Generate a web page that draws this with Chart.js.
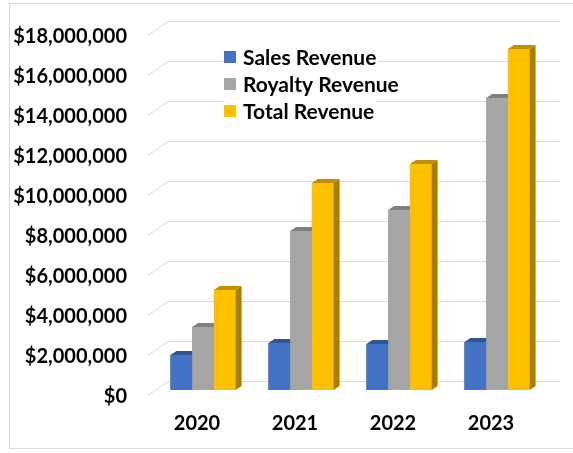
<!DOCTYPE html>
<html>
<head>
<meta charset="utf-8">
<script src="https://cdn.jsdelivr.net/npm/chart.js@4/dist/chart.umd.min.js"></script>
<style>
  html, body { margin: 0; padding: 0; background: #fff; overflow: hidden; }
  #wrap { position: relative; width: 573px; height: 453px; }
  #frame { position: absolute; left: 9px; top: 3px; width: 580px; height: 444px; border: 1px solid #d9d9d9; }
  #revenue-chart { position: absolute; left: 0; top: 0; }
</style>
</head>
<body>
<div id="wrap">
  <div id="frame"></div>
  <canvas id="revenue-chart" width="573" height="453"></canvas>
</div>
<script>
const ctx = document.getElementById('revenue-chart').getContext('2d');

// values
const years = ['2020', '2021', '2022', '2023'];
const salesRevenue = [1750000, 2350000, 2300000, 2400000];
const royaltyRevenue = [3150000, 7950000, 9000000, 14600000];
const totalRevenue = [5000000, 10350000, 11300000, 17050000];
const yMax = 18000000;
const yStep = 2000000;

const fontFamily = 'Lato, "DejaVu Sans", sans-serif';
const labelFont = { family: fontFamily, size: 20, weight: 'bold' };
const gridColor = '#d9d9d9';

// back wall + left wall gridlines, drawn like the 3D excel chart
const gridPlugin = {
    id: 'grid3d',
    beforeDatasetsDraw(chart) {
        const c = chart.ctx;
        const area = chart.chartArea;
        const y = chart.scales.y;
        c.save();
        c.strokeStyle = gridColor;
        c.lineWidth = 1;
        y.ticks.forEach(t => {
            const py = Math.round(y.getPixelForValue(t.value)) + 0.5;
            c.beginPath();
            c.moveTo(area.left - 6, py + 5);
            c.lineTo(area.left + 14, py - 9);
            c.lineTo(area.right + 14, py - 9);
            c.stroke();
        });
        c.restore();
    }
};

// repaint each group left to right so the faces overlap properly
const depthPlugin = {
    id: 'barDepth',
    afterDatasetsDraw(chart) {
        const c = chart.ctx;
        const dx = 6, dy = 4;
        const metas = chart.data.datasets.map((ds, i) => chart.getDatasetMeta(i));
        c.save();
        chart.data.labels.forEach((label, j) => {
            metas.forEach((meta, i) => {
                const ds = chart.data.datasets[i];
                const bar = meta.data[j];
                const left = bar.x - bar.width / 2;
                const right = bar.x + bar.width / 2;
                c.fillStyle = ds.backgroundColor;
                c.fillRect(left, bar.y, right - left, bar.base - bar.y);
                c.fillStyle = ds.sideColor;
                c.beginPath();
                c.moveTo(right, bar.y);
                c.lineTo(right + dx, bar.y - dy);
                c.lineTo(right + dx, bar.base - dy);
                c.lineTo(right, bar.base);
                c.closePath();
                c.fill();
                c.fillStyle = ds.topColor;
                c.beginPath();
                c.moveTo(left, bar.y);
                c.lineTo(right, bar.y);
                c.lineTo(right + dx, bar.y - dy);
                c.lineTo(left + dx, bar.y - dy);
                c.closePath();
                c.fill();
            });
        });
        c.restore();
    }
};

// legend inside the plot, one entry per line
const legendPlugin = {
    id: 'insideLegend',
    afterDraw(chart) {
        const c = chart.ctx;
        const area = chart.chartArea;
        const x = area.left + 70;
        let y = area.top + 27;
        c.save();
        c.font = 'bold 21px ' + fontFamily;
        c.textBaseline = 'middle';
        chart.data.datasets.forEach(ds => {
            const w = c.measureText(ds.label).width;
            c.fillStyle = '#fff';
            c.fillRect(x - 1, y - 11, w + 22, 22);
            c.fillStyle = ds.backgroundColor;
            c.fillRect(x, y - 6, 12, 12);
            c.fillStyle = '#000';
            c.fillText(ds.label, x + 19, y + 1);
            y += 27;
        });
        c.restore();
    }
};

const revenueChart = new Chart(ctx, {
    type: 'bar',
    data: {
        labels: years,
        datasets: [{
            label: 'Sales Revenue',
            data: salesRevenue,
            backgroundColor: '#4472c4',
            topColor: '#2f5597',
            sideColor: '#2f528f'
        }, {
            label: 'Royalty Revenue',
            data: royaltyRevenue,
            backgroundColor: '#a5a5a5',
            topColor: '#7f7f7f',
            sideColor: '#7b7b7b'
        }, {
            label: 'Total Revenue',
            data: totalRevenue,
            backgroundColor: '#ffc000',
            topColor: '#bf9000',
            sideColor: '#a67f00'
        }]
    },
    options: {
        responsive: false,
        animation: false,
        layout: { padding: { left: 10, top: 30, right: 27, bottom: 0 } },
        datasets: {
            bar: { categoryPercentage: 0.665, barPercentage: 1.0, borderWidth: 0 }
        },
        plugins: {
            legend: { display: false },
            tooltip: { enabled: false }
        },
        scales: {
            x: {
                grid: { display: false, drawTicks: false },
                border: { display: false },
                ticks: { font: labelFont, color: '#000', padding: 22, labelOffset: -6 },
                afterFit(scale) { scale.height = 63; }
            },
            y: {
                min: 0,
                max: yMax,
                grid: { display: false, drawTicks: false },
                border: { display: false },
                ticks: {
                    stepSize: yStep,
                    font: labelFont,
                    color: '#000',
                    padding: 27,
                    labelOffset: 7,
                    callback: v => '$' + v.toLocaleString('en-US')
                },
                afterFit(scale) {
                    scale.width = 144;
                    scale.paddingTop = 0;
                    scale.paddingBottom = 0;
                }
            }
        }
    },
    plugins: [gridPlugin, depthPlugin, legendPlugin]
});
</script>
</body>
</html>
